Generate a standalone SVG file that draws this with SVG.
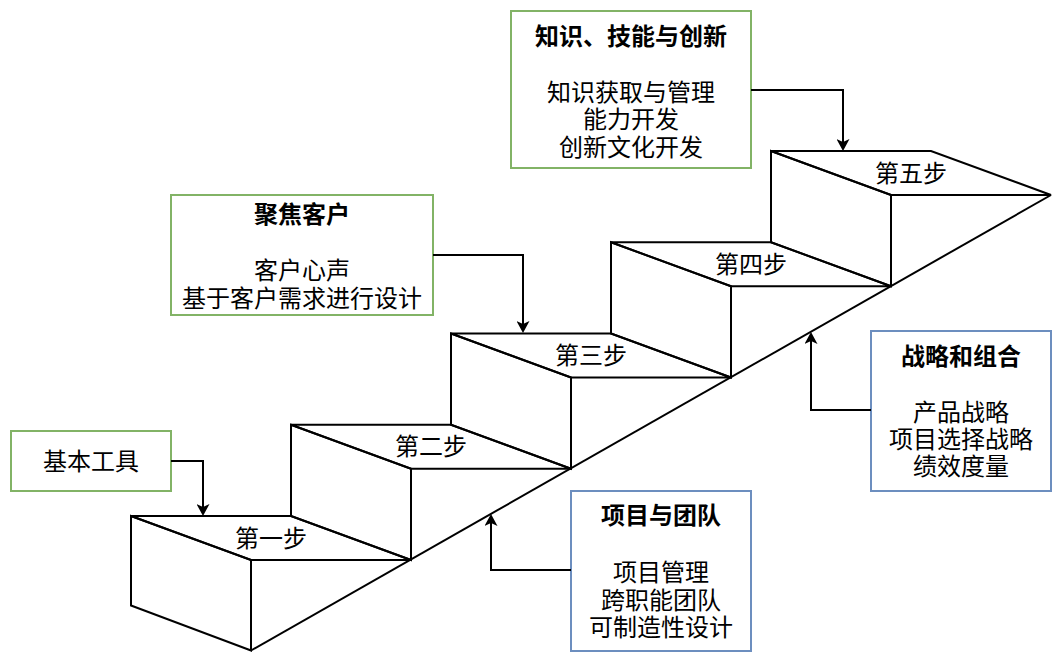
<svg xmlns="http://www.w3.org/2000/svg" width="1064" height="664" viewBox="0 0 1064 664">
<defs>
<style>
.s{fill:none;stroke:#000;stroke-width:2;stroke-linejoin:miter}
.c{fill:none;stroke:#000;stroke-width:2}
.t{font-family:"Noto Sans CJK SC","Noto Sans CJK JP",sans-serif;font-size:24px;fill:#000;text-anchor:middle}
.b{font-weight:bold}
.g{fill:#fff;stroke:#82b366;stroke-width:2}
.u{fill:#fff;stroke:#6c8ebf;stroke-width:2}
</style>
<marker id="ah" viewBox="0 0 12 13" refX="3" refY="6.5" markerWidth="12" markerHeight="13" markerUnits="userSpaceOnUse" orient="auto">
<path d="M0,0 L12,6.5 L0,13 L3,6.5 z" fill="#000"/>
</marker>
</defs>
<rect width="1064" height="664" fill="#fff"/>
<g id="stairs">
<g id="step1">
<polygon class="s" points="131,516 291,516 411,560 251,560"/>
<polygon class="s" points="131,516 251,560 251,650.5 131,605.5"/>
<text class="t" x="271" y="546.5">第一步</text>
</g>
<g id="step2">
<polygon class="s" points="291,424.75 451,424.75 571,468.75 411,468.75"/>
<polygon class="s" points="291,424.75 411,468.75 411,560 291,516"/>
<text class="t" x="431" y="455.25">第二步</text>
</g>
<g id="step3">
<polygon class="s" points="451,333.5 611,333.5 731,377.5 571,377.5"/>
<polygon class="s" points="451,333.5 571,377.5 571,468.75 451,424.75"/>
<text class="t" x="591" y="364">第三步</text>
</g>
<g id="step4">
<polygon class="s" points="611,242.25 771,242.25 891,286.25 731,286.25"/>
<polygon class="s" points="611,242.25 731,286.25 731,377.5 611,333.5"/>
<text class="t" x="751" y="272.75">第四步</text>
</g>
<g id="step5">
<polygon class="s" points="771,151 931,151 1051,195 891,195"/>
<polygon class="s" points="771,151 891,195 891,286.25 771,242.25"/>
<text class="t" x="911" y="181.5">第五步</text>
</g>
<line class="s" x1="251" y1="650.5" x2="1051" y2="195"/>
</g>
<g id="box-tools">
<rect class="g" x="11" y="431" width="160" height="60"/>
<text class="t" x="91" y="470">基本工具</text>
</g>
<g id="box-customer">
<rect class="g" x="171" y="195" width="262" height="120"/>
<text class="t b" x="302" y="222.5">聚焦客户</text>
<text class="t" x="302" y="278.5">客户心声</text>
<text class="t" x="302" y="306.5">基于客户需求进行设计</text>
</g>
<g id="box-knowledge">
<rect class="g" x="511" y="11" width="240" height="157"/>
<text class="t b" x="631" y="44.5">知识、技能与创新</text>
<text class="t" x="631" y="100.5">知识获取与管理</text>
<text class="t" x="631" y="128">能力开发</text>
<text class="t" x="631" y="155.5">创新文化开发</text>
</g>
<g id="box-project">
<rect class="u" x="571" y="491" width="180" height="160"/>
<text class="t b" x="661" y="523.5">项目与团队</text>
<text class="t" x="661" y="580.5">项目管理</text>
<text class="t" x="661" y="608.5">跨职能团队</text>
<text class="t" x="661" y="636">可制造性设计</text>
</g>
<g id="box-strategy">
<rect class="u" x="871" y="331" width="180" height="160"/>
<text class="t b" x="961" y="364.5">战略和组合</text>
<text class="t" x="961" y="420.5">产品战略</text>
<text class="t" x="961" y="448">项目选择战略</text>
<text class="t" x="961" y="475">绩效度量</text>
</g>
<g id="connectors">
<path class="c" d="M171,461 H203 V507" marker-end="url(#ah)"/>
<path class="c" d="M433,255 H523 V324" marker-end="url(#ah)"/>
<path class="c" d="M751,90 H843 V142" marker-end="url(#ah)"/>
<path class="c" d="M571,570 H491 V523" marker-end="url(#ah)"/>
<path class="c" d="M871,410 H811 V341" marker-end="url(#ah)"/>
</g>
</svg>
